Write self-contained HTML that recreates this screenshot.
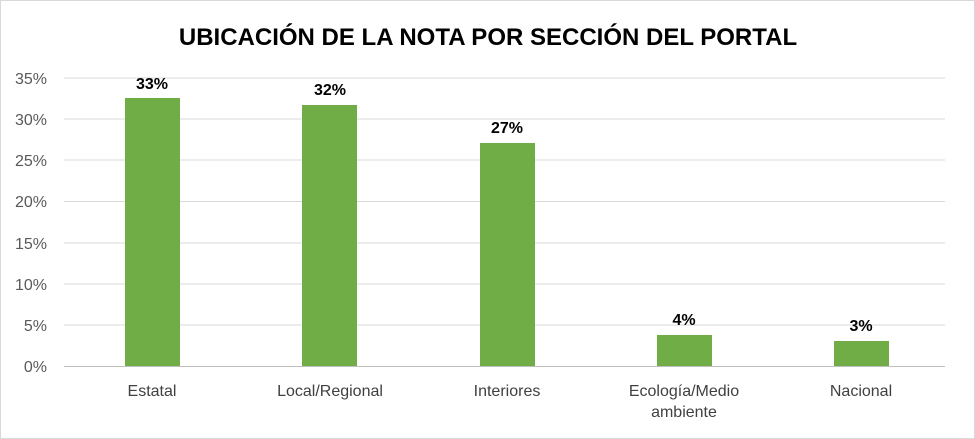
<!DOCTYPE html>
<html><head><meta charset="utf-8"><style>
body{margin:0;background:#fff}
svg{display:block;font-family:"Liberation Sans",Carlito,sans-serif}
</style></head><body>
<svg width="975" height="439" viewBox="0 0 975 439">
<rect x="0.5" y="0.5" width="974" height="438" fill="#fff" stroke="#d9d9d9"/>
<text x="488" y="45" text-anchor="middle" font-size="24" font-weight="bold" fill="#000">UBICACIÓN DE LA NOTA POR SECCIÓN DEL PORTAL</text>
<g stroke="#d9d9d9" stroke-width="1">
<line x1="64" x2="945" y1="78" y2="78"/><line x1="64" x2="945" y1="119" y2="119"/>
<line x1="64" x2="945" y1="160" y2="160"/><line x1="64" x2="945" y1="201.5" y2="201.5"/>
<line x1="64" x2="945" y1="243" y2="243"/><line x1="64" x2="945" y1="284" y2="284"/>
<line x1="64" x2="945" y1="325" y2="325"/>
</g>
<line x1="64" x2="945" y1="366.5" y2="366.5" stroke="#bfbfbf"/>
<g font-size="16" fill="#595959" text-anchor="end">
<text x="47" y="84">35%</text><text x="47" y="125">30%</text><text x="47" y="166">25%</text>
<text x="47" y="207">20%</text><text x="47" y="249">15%</text><text x="47" y="290">10%</text>
<text x="47" y="331">5%</text><text x="47" y="372">0%</text>
</g>
<g fill="#70ad47">
<rect x="125" y="98" width="55" height="268"/>
<rect x="302" y="105" width="55" height="261"/>
<rect x="480" y="143" width="55" height="223"/>
<rect x="657" y="335" width="55" height="31"/>
<rect x="834" y="341" width="55" height="25"/>
</g>
<g font-size="16" font-weight="bold" fill="#000" text-anchor="middle">
<text x="152" y="89">33%</text><text x="330" y="95">32%</text><text x="507" y="133">27%</text>
<text x="684" y="325">4%</text><text x="861" y="331">3%</text>
</g>
<g font-size="16" fill="#404040" text-anchor="middle">
<text x="152" y="396">Estatal</text><text x="330" y="396">Local/Regional</text>
<text x="507" y="396">Interiores</text><text x="684" y="396">Ecología/Medio</text>
<text x="684" y="417">ambiente</text><text x="861" y="396">Nacional</text>
</g>
</svg>
</body></html>
